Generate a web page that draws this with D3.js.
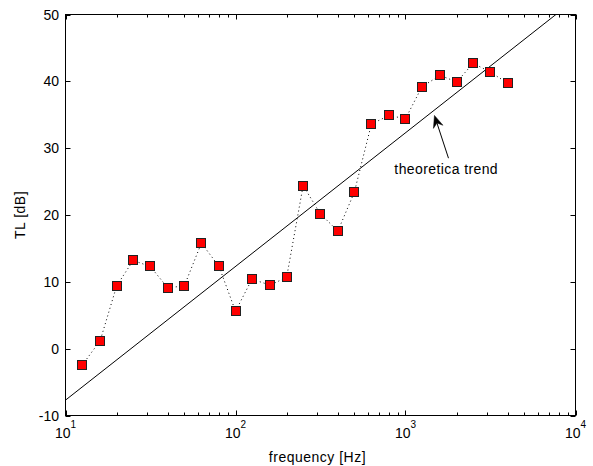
<!DOCTYPE html>
<html>
<head>
<meta charset="utf-8">
<script src="https://cdn.jsdelivr.net/npm/d3@7"></script>
<style>
  html, body { margin: 0; padding: 0; background: #fff; }
  svg { display: block; }
  text { font-family: "Liberation Sans", Arial, sans-serif; fill: #000; }
</style>
</head>
<body>
<svg id="chart" width="593" height="466"></svg>
<script>
// ---- data ----
const frequencies = [12.5, 16, 20, 25, 31.5, 40, 50, 63, 80, 100, 125, 160, 200, 250, 315, 400, 500, 630, 800, 1000, 1250, 1600, 2000, 2500, 3150, 4000];
const tlValues = [-2.5, 1.2, 9.4, 13.2, 12.3, 9.1, 9.4, 15.8, 12.3, 5.6, 10.4, 9.5, 10.7, 24.4, 20.2, 17.6, 23.4, 33.6, 34.9, 34.4, 39.2, 40.9, 39.9, 42.7, 41.4, 39.7];
const trendFreq = [10, 10000];
const trendTL = [-7.7, 52.3];
const xTickValues = [10, 100, 1000, 10000];
const xTickExponents = ["1", "2", "3", "4"];
const yTickValues = [-10, 0, 10, 20, 30, 40, 50];
const annotationText = "theoretica trend";
const arrowTail = [1790, 28.5];
const arrowTip = [1480, 34.9];
const annotationPos = [860, 26.1];
const xLabel = "frequency [Hz]";
const yLabel = "TL [dB]";

// ---- layout ----
const svg = d3.select("#chart");
const mLeft = 65.5, mRight = 575.5, mTop = 14.5, mBottom = 415.5;
const x = d3.scaleLog().domain([10, 10000]).range([mLeft, mRight]);
const y = d3.scaleLinear().domain([-10, 50]).range([mBottom, mTop]);

svg.append("rect").attr("width", 593).attr("height", 466).attr("fill", "#fff");

svg.append("defs").append("clipPath").attr("id", "clip")
  .append("rect").attr("x", mLeft).attr("y", mTop).attr("width", mRight - mLeft).attr("height", mBottom - mTop);

const plot = svg.append("g").attr("clip-path", "url(#clip)");

// trend line
const trend = trendFreq.map((f, i) => [f, trendTL[i]]);
plot.append("path")
  .attr("d", d3.line().x(d => x(d[0])).y(d => y(d[1]))(trend))
  .attr("fill", "none").attr("stroke", "#000").attr("stroke-width", 1);

// dotted connecting line
const pts = frequencies.map((f, i) => [f, tlValues[i]]);
plot.append("path")
  .attr("d", d3.line().x(d => x(d[0])).y(d => y(d[1]))(pts))
  .attr("fill", "none").attr("stroke", "#000").attr("stroke-width", 1)
  .attr("stroke-dasharray", "1,3");

// markers
plot.selectAll("rect.m").data(pts).enter().append("rect")
  .attr("class", "m")
  .attr("x", d => Math.round(x(d[0])) - 4.5)
  .attr("y", d => Math.round(y(d[1])) - 4.5)
  .attr("width", 9).attr("height", 9)
  .attr("fill", "#ff0000").attr("stroke", "#222").attr("stroke-width", 1);

// axes box
const axisColor = "#000";
svg.append("rect").attr("x", mLeft).attr("y", mTop).attr("width", mRight - mLeft).attr("height", mBottom - mTop)
  .attr("fill", "none").attr("stroke", axisColor).attr("stroke-width", 1);

// x ticks (major + minor) bottom and top
const minorTicks = [];
for (let d = 10; d < 10000; d *= 10) for (let k = 2; k <= 9; k++) minorTicks.push(d * k);
const tickG = svg.append("g").attr("stroke", axisColor).attr("stroke-width", 1);
minorTicks.forEach(v => {
  const px = Math.round(x(v)) + 0.5;
  tickG.append("line").attr("x1", px).attr("x2", px).attr("y1", mBottom).attr("y2", mBottom - 3);
  tickG.append("line").attr("x1", px).attr("x2", px).attr("y1", mTop).attr("y2", mTop + 3);
});
xTickValues.forEach(v => {
  const px = Math.round(x(v)) + 0.5;
  tickG.append("line").attr("x1", px).attr("x2", px).attr("y1", mBottom).attr("y2", mBottom - 5);
  tickG.append("line").attr("x1", px).attr("x2", px).attr("y1", mTop).attr("y2", mTop + 5);
});
yTickValues.forEach(v => {
  const py = Math.round(y(v)) + 0.5;
  tickG.append("line").attr("x1", mLeft).attr("x2", mLeft + 5).attr("y1", py).attr("y2", py);
  tickG.append("line").attr("x1", mRight).attr("x2", mRight - 5).attr("y1", py).attr("y2", py);
});

// x tick labels (10^n)
xTickValues.forEach((v, i) => {
  const t = svg.append("text").attr("x", x(v)).attr("y", 438)
    .attr("text-anchor", "middle").attr("font-size", 14);
  t.append("tspan").text("10");
  t.append("tspan").attr("dy", -10).attr("font-size", 10).text(xTickExponents[i]);
});

// y tick labels
yTickValues.forEach(v => {
  svg.append("text").attr("x", 59).attr("y", y(v)).attr("dy", "0.36em")
    .attr("text-anchor", "end").attr("font-size", 14).text(v);
});

// axis labels
svg.append("text").attr("x", (mLeft + mRight) / 2 - 3).attr("y", 462)
  .attr("text-anchor", "middle").attr("font-size", 14).attr("letter-spacing", 0.5).text(xLabel);
svg.append("text").attr("transform", `translate(25,${(mTop + mBottom) / 2}) rotate(-90)`)
  .attr("text-anchor", "middle").attr("font-size", 14).attr("letter-spacing", 0.5).text(yLabel);

// annotation text
svg.append("text").attr("x", x(annotationPos[0])).attr("y", y(annotationPos[1]))
  .attr("font-size", 14).attr("letter-spacing", 0.4).text(annotationText);

// arrow (vback2 style)
const tx = x(arrowTail[0]), ty = y(arrowTail[1]);
const hx = x(arrowTip[0]), hy = y(arrowTip[1]);
const ang = Math.atan2(hy - ty, hx - tx);
const L = 12, W = 5, back = 8;
const ux = Math.cos(ang), uy = Math.sin(ang), nx = -uy, ny = ux;
const bx = hx - ux * L, by = hy - uy * L;
const nbx = hx - ux * back, nby = hy - uy * back;
svg.append("line").attr("x1", tx).attr("y1", ty).attr("x2", nbx).attr("y2", nby)
  .attr("stroke", "#000").attr("stroke-width", 1);
svg.append("path")
  .attr("d", `M${hx},${hy} L${bx + nx * W},${by + ny * W} L${nbx},${nby} L${bx - nx * W},${by - ny * W} Z`)
  .attr("fill", "#000").attr("stroke", "#000").attr("stroke-width", 0.5);
</script>
</body>
</html>
